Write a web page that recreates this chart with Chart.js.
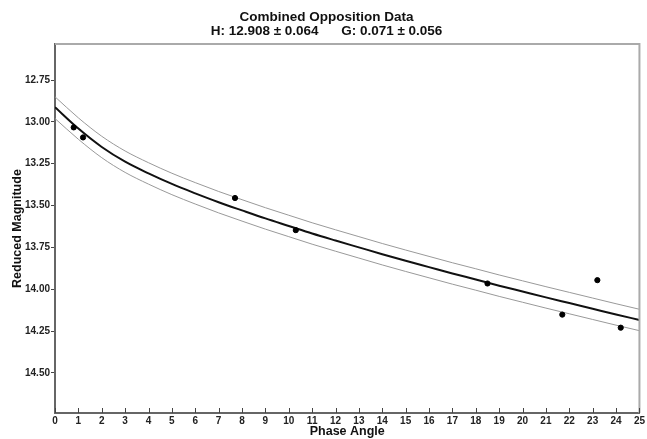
<!DOCTYPE html>
<html>
<head>
<meta charset="utf-8">
<script src="https://cdn.jsdelivr.net/npm/chart.js@4"></script>
<style>
  html, body { margin: 0; padding: 0; background: #fff; }
  canvas { display: block; }
</style>
</head>
<body>
<canvas id="main-chart" width="647" height="439"></canvas>
<script>
// fitted H-G curve and its +/- bands
const phaseAngles = [0, 1, 2, 3, 4, 5, 6, 7, 8, 9, 10, 11, 12, 13, 14, 15, 16, 17, 18, 19, 20, 21, 22, 23, 24, 25];
const fitMag = [12.912, 13.040, 13.150, 13.238, 13.308, 13.371, 13.427, 13.480, 13.529, 13.577, 13.622, 13.667, 13.709, 13.750, 13.791, 13.830, 13.868, 13.906, 13.942, 13.979, 14.014, 14.049, 14.083, 14.117, 14.151, 14.184];
const upperMag = [12.850, 12.976, 13.086, 13.174, 13.244, 13.307, 13.363, 13.416, 13.465, 13.513, 13.558, 13.603, 13.645, 13.686, 13.727, 13.766, 13.804, 13.842, 13.878, 13.915, 13.950, 13.985, 14.019, 14.053, 14.087, 14.120];
const lowerMag = [12.980, 13.104, 13.214, 13.302, 13.372, 13.435, 13.491, 13.544, 13.593, 13.641, 13.686, 13.731, 13.773, 13.814, 13.855, 13.894, 13.932, 13.970, 14.006, 14.043, 14.078, 14.113, 14.147, 14.181, 14.215, 14.248];

// observations
const obsAngles = [0.8, 1.2, 7.7, 10.3, 18.5, 21.7, 23.2, 24.2];
const obsMag = [13.033, 13.093, 13.455, 13.647, 13.966, 14.152, 13.946, 14.230];

const magTicks = [12.75, 13.00, 13.25, 13.50, 13.75, 14.00, 14.25, 14.50];
const angleTicks = [0, 1, 2, 3, 4, 5, 6, 7, 8, 9, 10, 11, 12, 13, 14, 15, 16, 17, 18, 19, 20, 21, 22, 23, 24, 25];

const toXY = (xs, ys) => xs.map((x, i) => ({x: x, y: ys[i]}));

const tickFont = {family: "'Liberation Sans Narrow', 'Liberation Sans', Arial, sans-serif", size: 10, weight: 'bold'};
const titleFont = {family: "'Liberation Sans', Arial, sans-serif", size: 13.5, weight: 'bold', lineHeight: 1.04};
const axisFont = {family: "'Liberation Sans', Arial, sans-serif", size: 12.5, weight: 'bold'};

const frame = {
    id: 'frame',
    afterDraw(chart) {
        const ctx = chart.ctx;
        const a = chart.chartArea;
        const xs = chart.scales.x;
        ctx.save();
        // light top / right border
        ctx.strokeStyle = '#aaa';
        ctx.lineWidth = 2;
        ctx.beginPath();
        ctx.moveTo(a.left, a.top);
        ctx.lineTo(a.right, a.top);
        ctx.lineTo(a.right, a.bottom);
        ctx.stroke();
        // inward x ticks
        ctx.strokeStyle = '#444';
        ctx.lineWidth = 1;
        ctx.beginPath();
        angleTicks.forEach(v => {
            const px = Math.round(xs.getPixelForValue(v)) + 0.5;
            ctx.moveTo(px, a.bottom);
            ctx.lineTo(px, a.bottom - 5);
        });
        ctx.stroke();
        ctx.restore();
    }
};

const curve = (label, ys, color, width) => ({
    label: label,
    data: toXY(phaseAngles, ys),
    showLine: true,
    borderColor: color,
    borderWidth: width,
    pointRadius: 0,
    cubicInterpolationMode: 'monotone',
    order: 1
});

new Chart(document.getElementById('main-chart'), {
    type: 'scatter',
    data: {
        datasets: [{
            label: 'Observed',
            data: toXY(obsAngles, obsMag),
            backgroundColor: '#000',
            borderColor: '#000',
            pointRadius: 2.6,
            showLine: false,
            order: 0
        },
        curve('Fit', fitMag, '#111', 2),
        curve('Upper', upperMag, '#999', 1),
        curve('Lower', lowerMag, '#999', 1)]
    },
    options: {
        responsive: false,
        animation: false,
        devicePixelRatio: 1,
        layout: {padding: {left: 10, right: 4, top: 4, bottom: 0}},
        plugins: {
            legend: {display: false},
            tooltip: {enabled: false},
            title: {
                display: true,
                text: ['Combined Opposition Data', 'H: 12.908 \u00b1 0.064      G: 0.071 \u00b1 0.056'],
                color: '#111',
                font: titleFont,
                padding: {top: 6, bottom: 6}
            }
        },
        scales: {
            x: {
                type: 'linear',
                min: 0,
                max: 25,
                afterBuildTicks: s => { s.ticks = angleTicks.map(v => ({value: v})); },
                afterFit: s => { s.height = 26; },
                ticks: {color: '#222', font: tickFont, padding: 2, maxRotation: 0, autoSkip: false},
                grid: {drawOnChartArea: false, drawTicks: false},
                border: {color: '#666', width: 2},
                title: {display: true, text: 'Phase Angle', color: '#111', font: axisFont, padding: 0}
            },
            y: {
                type: 'linear',
                reverse: true,
                min: 12.535,
                max: 14.74,
                afterBuildTicks: s => { s.ticks = magTicks.map(v => ({value: v})); },
                afterFit: s => { s.width = 45; },
                ticks: {color: '#222', font: tickFont, padding: 1, callback: v => v.toFixed(2)},
                grid: {drawOnChartArea: false, drawTicks: true, tickLength: 4, color: '#444'},
                border: {color: '#666', width: 2},
                title: {display: true, text: 'Reduced Magnitude', color: '#111', font: axisFont, padding: 0}
            }
        }
    },
    plugins: [frame]
});
</script>
</body>
</html>
